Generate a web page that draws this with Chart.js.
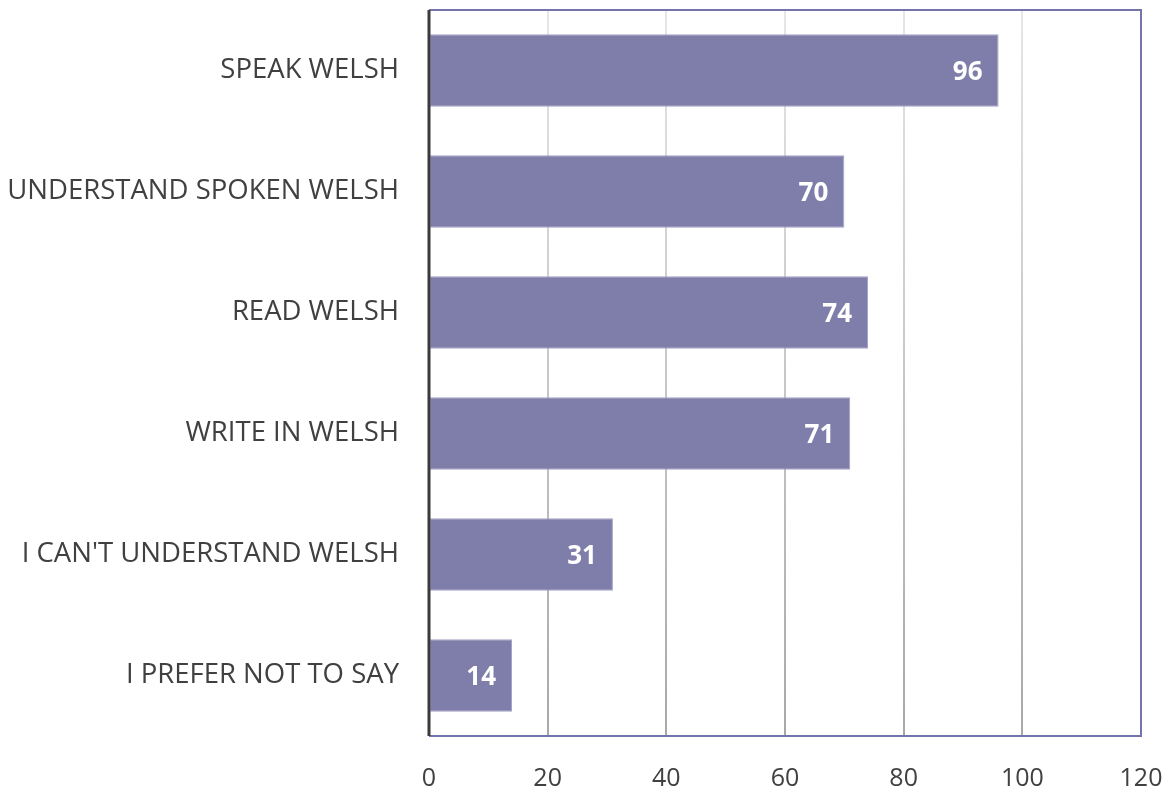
<!DOCTYPE html>
<html>
<head>
<meta charset="utf-8">
<script src="https://cdn.jsdelivr.net/npm/chart.js@4.4.0/dist/chart.umd.min.js"></script>
<style>
  html, body { margin: 0; padding: 0; background: #fff; }
  #wrap { width: 1172px; height: 792px; }
</style>
</head>
<body>
<div id="wrap"><canvas id="chart" width="1172" height="792"></canvas></div>
<script>
const categories = ["SPEAK WELSH", "UNDERSTAND SPOKEN WELSH", "READ WELSH", "WRITE IN WELSH", "I CAN'T UNDERSTAND WELSH", "I PREFER NOT TO SAY"];
const values = [96, 70, 74, 71, 31, 14];
const x_ticks = [0, 20, 40, 60, 80, 100, 120];

const bar_color = "#7f7eaa";
const frame_color = "#7474aa";

// white value labels inside the end of each bar
const value_labels = {
    id: 'value_labels',
    afterDatasetsDraw(chart) {
        const ctx = chart.ctx;
        const meta = chart.getDatasetMeta(0);
        ctx.save();
        ctx.fillStyle = "#ffffff";
        ctx.font = "bold 26px 'Open Sans'";
        ctx.textAlign = "right";
        ctx.textBaseline = "middle";
        meta.data.forEach((bar, i) => {
            ctx.fillText(values[i], bar.x - 16, bar.y + 2);
        });
        ctx.restore();
    }
};

// purple frame on top, right and bottom, dark line on the left
const frame = {
    id: 'frame',
    afterDraw(chart) {
        const a = chart.chartArea;
        const ctx = chart.ctx;
        ctx.save();
        ctx.strokeStyle = frame_color;
        ctx.lineWidth = 2;
        ctx.beginPath();
        ctx.moveTo(a.left, a.top);
        ctx.lineTo(a.right, a.top);
        ctx.lineTo(a.right, a.bottom);
        ctx.lineTo(a.left, a.bottom);
        ctx.stroke();
        ctx.strokeStyle = "#3a3a3a";
        ctx.lineWidth = 3;
        ctx.beginPath();
        ctx.moveTo(a.left, a.top);
        ctx.lineTo(a.left, a.bottom);
        ctx.stroke();
        ctx.restore();
    }
};

function grid_color(c) {
    const a = c.chart.chartArea;
    if (!a) return "#d0d0d0";
    const g = c.chart.ctx.createLinearGradient(0, a.top, 0, a.bottom);
    g.addColorStop(0, "#e6e6e6");
    g.addColorStop(1, "#a8a8a8");
    return g;
}

new Chart(document.getElementById("chart").getContext('2d'), {
    type: 'bar',
    data: {
        labels: categories,
        datasets: [{
            data: values,
            backgroundColor: bar_color,
            borderColor: "#a3a2c6",
            borderWidth: 1,
            borderSkipped: false,
            barPercentage: 0.6,
            categoryPercentage: 1.0
        }]
    },
    options: {
        indexAxis: 'y',
        responsive: false,
        animation: false,
        layout: { padding: { top: 10, right: 31, left: 0, bottom: 0 } },
        plugins: {
            legend: { display: false },
            tooltip: { enabled: false }
        },
        scales: {
            x: {
                min: 0,
                max: 120,
                afterBuildTicks: (axis) => { axis.ticks = x_ticks.map(v => ({ value: v })); },
                afterFit: (axis) => {
                    axis.height = 56;
                    axis.paddingLeft = 0; axis.paddingRight = 0;
                    axis.paddingTop = 0; axis.paddingBottom = 0;
                },
                grid: { color: grid_color, lineWidth: 2, drawTicks: false },
                border: { display: false },
                ticks: {
                    color: "#404040",
                    font: { family: "'Open Sans'", size: 25 },
                    padding: 28
                }
            },
            y: {
                afterFit: (axis) => {
                    axis.width = 429;
                    axis.paddingLeft = 0; axis.paddingRight = 0;
                    axis.paddingTop = 0; axis.paddingBottom = 0;
                },
                grid: { display: false },
                border: { display: false },
                ticks: {
                    color: "#404040",
                    font: { family: "'Open Sans'", size: 27.5 },
                    padding: 22
                }
            }
        }
    },
    plugins: [value_labels, frame]
});
</script>
</body>
</html>
